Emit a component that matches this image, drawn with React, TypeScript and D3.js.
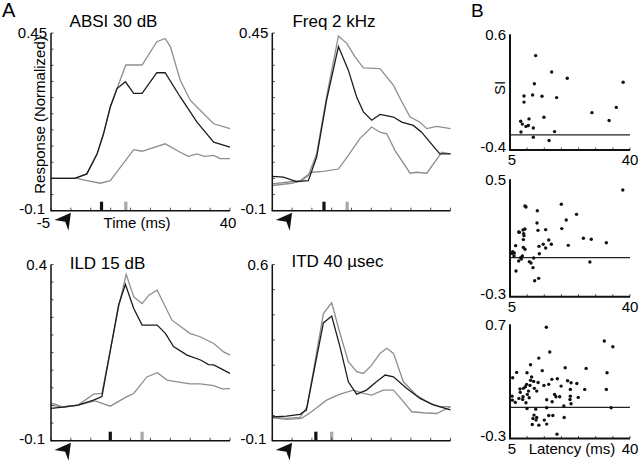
import React from "react";
import * as d3 from "d3";

type Pt = [number, number];

// ---------- Panel A data: [time (ms), normalized response] ----------
const absiHi: Pt[] = [[-5,0],[1,0],[4,0.014],[6.6,0.076],[8.2,0.138],[9.9,0.221],[11.6,0.278],[13.8,0.351],[15.8,0.351],[17.9,0.351],[21.6,0.423],[23.7,0.433],[25,0.408],[27.5,0.304],[30,0.242],[32.5,0.211],[35.9,0.169],[40,0.154]];
const absiBlack: Pt[] = [[-5,0],[1,0],[4,0.014],[6.6,0.076],[8.2,0.138],[9.9,0.221],[11.6,0.278],[13.7,0.299],[15.8,0.263],[17.9,0.263],[21.6,0.327],[23.7,0.327],[27.5,0.252],[31.7,0.174],[35.9,0.112],[40,0.097]];
const absiLo: Pt[] = [[-5,0],[1.5,0],[4,-0.007],[7.4,-0.015],[9.9,-0.007],[15.8,0.089],[17.9,0.084],[23.7,0.107],[27.5,0.081],[29.5,0.068],[31.7,0.076],[33.5,0.068],[35.9,0.071],[37.5,0.061],[40,0.061]];

const freqHi: Pt[] = [[-5,-0.022],[-0.1,-0.015],[2.4,-0.007],[4.1,0.009],[6.2,0.076],[8.7,0.252],[11.7,0.441],[13.8,0.418],[15.9,0.376],[18,0.342],[22.2,0.34],[25.6,0.288],[27.7,0.237],[29.8,0.19],[32.3,0.174],[34,0.154],[36.5,0.161],[40,0.154]];
const freqBlack: Pt[] = [[-5,0.006],[-2.2,0.004],[1.1,-0.01],[4.1,-0.007],[6.2,0.066],[8.7,0.242],[11.7,0.408],[14.2,0.335],[16.3,0.252],[18,0.206],[20.1,0.18],[22.2,0.198],[25.6,0.19],[27.7,0.174],[30.6,0.164],[32.7,0.143],[34.8,0.112],[37.3,0.076],[40,0.076]];
const freqLo: Pt[] = [[-5,-0.017],[-1.4,-0.012],[2,-0.007],[4.9,0.019],[7.9,0.022],[11.7,0.029],[14.2,0.071],[17.1,0.123],[20.1,0.159],[22.2,0.143],[23.9,0.138],[26,0.086],[29.8,0.016],[31.4,0.019],[34,0.016],[37.8,0.081],[40,0.076]];

const ildHi: Pt[] = [[-5,0.006],[-4,0.004],[-2,-0.005],[1.8,0.001],[5.7,0.032],[7.8,0.034],[12,0.28],[13.9,0.372],[15.8,0.308],[17.9,0.289],[19.6,0.313],[21.7,0.327],[25.4,0.242],[30,0.204],[32.5,0.195],[35.9,0.176],[38.4,0.152],[40,0.143]];
const ildBlack: Pt[] = [[-5,-0.008],[-2,-0.005],[1.8,0.001],[5.7,0.015],[7.8,0.025],[12,0.285],[13.7,0.344],[15.8,0.275],[17.9,0.228],[21.7,0.228],[23.8,0.204],[25.8,0.167],[29.2,0.143],[32.6,0.129],[34.6,0.116],[35.9,0.115],[40,0.091]];
const ildLo: Pt[] = [[-5,0.001],[-2.6,-0.004],[1.8,0.001],[6.1,0.013],[9.9,-0.002],[14.1,0.025],[15.8,0.034],[19.1,0.081],[21.7,0.093],[24.2,0.072],[26.7,0.067],[30,0.061],[32.5,0.061],[35.9,0.056],[38,0.047],[40,0.048]];

const itdHi: Pt[] = [[-5,-0.005],[-1.4,-0.011],[2,-0.007],[3.8,0.035],[7.9,0.405],[10,0.448],[12.1,0.326],[14.2,0.214],[16.3,0.174],[18,0.167],[20.1,0.2],[22.2,0.247],[23.9,0.267],[25.6,0.247],[28.1,0.134],[31.4,0.081],[34.8,0.048],[37.3,0.035],[40,0.035]];
const itdBlack: Pt[] = [[-5,-0.005],[-1.4,-0.002],[2,0.005],[3.6,0.022],[7.9,0.368],[10,0.395],[12.1,0.273],[14.2,0.134],[16.3,0.085],[18.8,0.101],[21.3,0.134],[23.5,0.161],[25.6,0.154],[28.9,0.108],[32.3,0.068],[35.7,0.042],[40,0.022]];
const itdLo: Pt[] = [[-5,-0.009],[-1.4,-0.015],[2.4,-0.011],[4.9,0.015],[8.7,0.061],[12.1,0.085],[15.5,0.101],[18,0.088],[20.1,0.081],[23,0.101],[25.6,0.101],[28.1,0.055],[30.2,0.015],[33.1,0.011],[36.5,0.008],[40,0.035]];

// latency markers (ms): [black, gray]
const absiBars = [7.7, 13.8];
const freqBars = [8.05, 13.9];
const ildBars = [9.9, 17.9];
const itdBars = [6, 10];

const panelTitles = ["ABSI 30 dB", "Freq 2 kHz", "ILD 15 dB", "ITD 40 \u00b5sec"];
const timeDomain = [-5, 40];

// ---------- Panel B data: [latency (ms), SI] ----------
const siB1: Pt[] = [[12.48,0.416],[17.15,0.274],[21.7,0.22],[38.0,0.186],[12.1,0.172],[9.08,0.067],[11.6,0.076],[14.33,0.065],[18.6,0.053],[9.08,0.014],[36.0,-0.032],[14.9,-0.117],[28.9,-0.077],[10.54,-0.131],[8.11,-0.151],[8.6,-0.176],[9.66,-0.196],[10.35,-0.188],[11.8,-0.21],[8.2,-0.244],[33.9,-0.145],[18.0,-0.241],[11.8,-0.29],[16.4,-0.318]];
const siB2: Pt[] = [[37.9,0.427],[9.37,0.318],[9.66,0.311],[19.97,0.33],[12.97,0.286],[24.4,0.261],[21.4,0.223],[12.87,0.202],[9.37,0.161],[8.79,0.155],[7.53,0.141],[13.16,0.152],[15.4,0.157],[20.1,0.164],[7.72,0.139],[8.98,0.13],[9.08,0.116],[8.89,0.089],[26.4,0.098],[28.7,0.091],[16.3,0.086],[33.1,0.068],[6.65,0.048],[14.7,0.057],[13.45,0.043],[17.05,0.057],[15.4,0.032],[22.0,0.05],[8.89,0.036],[9.37,0.023],[5.78,0.007],[5.58,-0.005],[6.26,-0.002],[6.17,-0.023],[13.55,-0.007],[8.6,-0.023],[8.1,-0.034],[11.9,-0.036],[7.53,-0.057],[8.3,-0.043],[10.64,-0.061],[11.12,-0.07],[28.3,-0.064],[11.7,-0.102],[6.75,-0.125],[13.36,-0.175],[12.19,-0.191]];
const siB3: Pt[] = [[15.6,0.674],[32.5,0.554],[35.0,0.504],[16.6,0.457],[13.4,0.404],[11.0,0.346],[21.1,0.32],[27.2,0.314],[6.94,0.279],[9.96,0.276],[14.4,0.294],[33.3,0.276],[5.78,0.232],[11.3,0.238],[18.8,0.223],[17.2,0.218],[11.0,0.209],[11.9,0.2],[13.2,0.191],[9.86,0.174],[10.83,0.165],[9.47,0.153],[14.9,0.165],[16.3,0.174],[21.8,0.206],[22.8,0.188],[24.5,0.182],[26.8,0.13],[19.9,0.159],[22.6,0.13],[8.9,0.139],[7.9,0.133],[12.1,0.139],[8.0,0.104],[10.4,0.115],[12.8,0.115],[33.1,0.13],[5.6,0.071],[7.6,0.051],[8.8,0.066],[10.05,0.086],[10.6,0.057],[18.0,0.086],[18.4,0.066],[19.5,0.066],[22.6,0.071],[24.9,0.06],[5.7,0.036],[6.55,0.016],[8.7,0.042],[9.66,0.013],[15.7,0.039],[17.3,0.022],[20.7,-0.016],[22.8,0.004],[22.5,0.042],[9.96,-0.037],[15.7,-0.031],[12.5,-0.043],[34.5,-0.031],[12.0,-0.095],[11.7,-0.125],[12.8,-0.116],[16.3,-0.098],[17.5,-0.098],[11.5,-0.177],[13.4,-0.183],[15.7,-0.174],[20.8,-0.116],[15.0,-0.139],[18.7,-0.262],[12.6,-0.139]];
const siRefLines = [-0.27, -0.034, -0.028];
const latencyDomain = [5, 40];

const FONT = "'Liberation Sans', Arial, Helvetica, sans-serif";
const GRAY = "#8e8e8e";
const BLACK = "#1c1c1c";

type LPanel = {
  title: string; x0: number; x1: number; yTop: number; yBot: number;
  yDom: [number, number]; yStep: number; yLabels: [string, string];
  hi: Pt[]; black: Pt[]; lo: Pt[]; bars: number[];
  titleX: number; titleY: number; showX: boolean;
};

const lPanels: LPanel[] = [
  { title: panelTitles[0], x0: 51, x1: 230, yTop: 33, yBot: 210.7, yDom: [-0.1, 0.45], yStep: 0.05, yLabels: ["0.45", "-0.1"], hi: absiHi, black: absiBlack, lo: absiLo, bars: absiBars, titleX: 113.5, titleY: 27, showX: true },
  { title: panelTitles[1], x0: 272.3, x1: 450.5, yTop: 33, yBot: 210.7, yDom: [-0.1, 0.45], yStep: 0.05, yLabels: ["0.45", "-0.1"], hi: freqHi, black: freqBlack, lo: freqLo, bars: freqBars, titleX: 334, titleY: 27, showX: false },
  { title: panelTitles[2], x0: 51, x1: 230, yTop: 264.5, yBot: 440.7, yDom: [-0.1, 0.4], yStep: 0.05, yLabels: ["0.4", "-0.1"], hi: ildHi, black: ildBlack, lo: ildLo, bars: ildBars, titleX: 107.5, titleY: 269, showX: false },
  { title: panelTitles[3], x0: 272.3, x1: 450.5, yTop: 264.5, yBot: 440.7, yDom: [-0.1, 0.6], yStep: 0.1, yLabels: ["0.6", "-0.1"], hi: itdHi, black: itdBlack, lo: itdLo, bars: itdBars, titleX: 337.5, titleY: 267, showX: false },
];

type SPanel = { x0: number; x1: number; yTop: number; yBot: number; yDom: [number, number]; yLabels: [string, string]; pts: Pt[]; ref: number; latencyLabel: boolean; };
const sPanels: SPanel[] = [
  { x0: 510, x1: 630, yTop: 34.3, yBot: 150, yDom: [-0.4, 0.6], yLabels: ["0.6", "-0.4"], pts: siB1, ref: siRefLines[0], latencyLabel: false },
  { x0: 510, x1: 630, yTop: 179.3, yBot: 296.7, yDom: [-0.3, 0.5], yLabels: ["0.5", "-0.3"], pts: siB2, ref: siRefLines[1], latencyLabel: false },
  { x0: 510, x1: 630, yTop: 324.3, yBot: 438.5, yDom: [-0.3, 0.7], yLabels: ["0.7", "-0.3"], pts: siB3, ref: siRefLines[2], latencyLabel: true },
];

function Arrow({ x, y }: { x: number; y: number }) {
  const pts: Pt[] = [[0, 0], [-16.4, 7.3], [-5.7, 9], [-2.4, 18]];
  return <polygon points={pts.map(([a, b]) => `${x + a},${y + b}`).join(" ")} fill="#111" />;
}

function LinePanel({ p }: { p: LPanel }) {
  const x = d3.scaleLinear().domain(timeDomain).range([p.x0, p.x1]);
  const y = d3.scaleLinear().domain(p.yDom).range([p.yBot, p.yTop]);
  const line = d3.line<Pt>().x((d) => x(d[0])).y((d) => y(d[1]));
  const yTicks = d3.range(p.yDom[0], p.yDom[1] + 1e-6, p.yStep);
  const xTicks = d3.range(timeDomain[0], timeDomain[1] + 1e-6, 5);
  return (
    <g>
      <text x={p.titleX} y={p.titleY} textAnchor="middle" fontSize={17} fontFamily={FONT}>{p.title}</text>
      {p.bars.map((t, i) => (
        <rect key={i} x={x(t) - 1.6} y={p.yBot - 9} width={3.2} height={9} fill={i === 0 ? "#111" : "#a8a8a8"} />
      ))}
      <path d={line(p.lo) || ""} fill="none" stroke={GRAY} strokeWidth={1.3} />
      <path d={line(p.hi) || ""} fill="none" stroke={GRAY} strokeWidth={1.3} />
      <path d={line(p.black) || ""} fill="none" stroke={BLACK} strokeWidth={1.3} />
      {yTicks.map((v, i) => (
        <line key={"y" + i} x1={p.x0} x2={p.x0 + 2.5} y1={y(v)} y2={y(v)} stroke="#222" strokeWidth={0.8} />
      ))}
      {xTicks.map((v, i) => (
        <line key={"x" + i} x1={x(v)} x2={x(v)} y1={p.yBot} y2={p.yBot - 3} stroke="#222" strokeWidth={0.8} />
      ))}
      <path d={`M${p.x0},${p.yTop}V${p.yBot}H${p.x1}`} fill="none" stroke="#111" strokeWidth={1.5} />
      <text x={p.x0 - 4} y={p.yTop} dy="0.35em" textAnchor="end" fontSize={15} fontFamily={FONT}>{p.yLabels[0]}</text>
      <text x={p.x0 - 6} y={p.yBot - 2} dy="0.35em" textAnchor="end" fontSize={15} fontFamily={FONT}>{p.yLabels[1]}</text>
      <Arrow x={x(0)} y={p.yBot + 2} />
      {p.showX && (
        <g fontSize={15} fontFamily={FONT}>
          <text x={p.x0 - 1} y={p.yBot + 17.5} textAnchor="end">{"-5"}</text>
          <text x={137} y={p.yBot + 17} textAnchor="middle">Time (ms)</text>
          <text x={p.x1 - 2} y={p.yBot + 17} textAnchor="middle">40</text>
        </g>
      )}
    </g>
  );
}

function ScatterPanel({ p }: { p: SPanel }) {
  const x = d3.scaleLinear().domain(latencyDomain).range([p.x0, p.x1]);
  const y = d3.scaleLinear().domain(p.yDom).range([p.yBot, p.yTop]);
  const xTicks = d3.range(latencyDomain[0], latencyDomain[1] + 1e-6, 5);
  return (
    <g>
      <line x1={p.x0} x2={p.x1} y1={y(p.ref)} y2={y(p.ref)} stroke="#222" strokeWidth={1.3} />
      {p.pts.map((d, i) => (
        <circle key={i} cx={x(d[0])} cy={y(d[1])} r={1.7} fill="#111" />
      ))}
      {xTicks.map((v, i) => (
        <line key={i} x1={x(v)} x2={x(v)} y1={p.yBot} y2={p.yBot - 2.5} stroke="#222" strokeWidth={0.8} />
      ))}
      <path d={`M${p.x0},${p.yTop}V${p.yBot}H${p.x1}`} fill="none" stroke="#111" strokeWidth={2} />
      <g fontSize={15} fontFamily={FONT}>
        <text x={p.x0 - 4} y={p.yTop} dy="0.35em" textAnchor="end">{p.yLabels[0]}</text>
        <text x={p.x0 - 4} y={p.yBot - 3} dy="0.35em" textAnchor="end">{p.yLabels[1]}</text>
        <text x={p.x0 + 2} y={p.yBot + 15} textAnchor="middle">5</text>
        <text x={p.x1} y={p.yBot + 15} textAnchor="middle">40</text>
        {p.latencyLabel && <text x={572} y={p.yBot + 15} textAnchor="middle">Latency (ms)</text>}
      </g>
    </g>
  );
}

export default function App() {
  return (
    <svg width={640} height={463} viewBox="0 0 640 463" style={{ position: "absolute", left: 0, top: 0, background: "#fff" }}>
      <rect x={0} y={0} width={640} height={463} fill="#fff" />
      <text x={2} y={17} fontSize={20} fontFamily={FONT}>A</text>
      <text x={471} y={17} fontSize={19} fontFamily={FONT}>B</text>
      <text transform="translate(45,115) rotate(-90)" textAnchor="middle" fontSize={15} fontFamily={FONT}>Response (Normalized)</text>
      <text transform="translate(505,88) rotate(-90)" textAnchor="middle" fontSize={15} fontFamily={FONT}>SI</text>
      {lPanels.map((p, i) => <LinePanel key={i} p={p} />)}
      {sPanels.map((p, i) => <ScatterPanel key={i} p={p} />)}
    </svg>
  );
}
